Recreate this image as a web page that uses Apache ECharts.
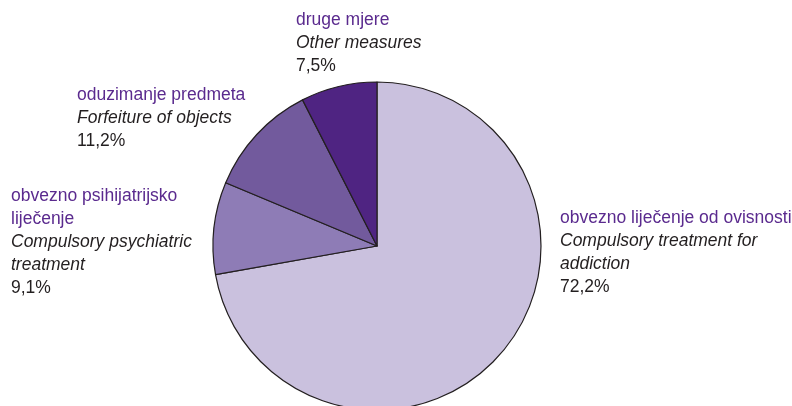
<!DOCTYPE html>
<html>
<head>
<meta charset="utf-8">
<script src="https://cdn.jsdelivr.net/npm/echarts@6/dist/echarts.min.js"></script>
<style>html,body{margin:0;padding:0;background:#fff}#c{width:792px;height:406px}</style>
</head>
<body>
<div id="c"></div>
<script>
const namesHr = ['obvezno liječenje od ovisnosti', 'obvezno psihijatrijsko\nliječenje', 'oduzimanje predmeta', 'druge mjere'];
const namesEn = ['Compulsory treatment for\naddiction', 'Compulsory psychiatric\ntreatment', 'Forfeiture of objects', 'Other measures'];
const values = [72.2, 9.1, 11.2, 7.5];

const colors = ['#CAC1DE', '#8E7CB6', '#725A9D', '#4F2482'];
const labelPos = [[560, 207], [11, 185], [77, 84], [296, 9]];

const chart = echarts.init(document.getElementById('c'));
const data = values.map((v, i) => ({
  value: v,
  name: namesHr[i],
  en: namesEn[i],
  itemStyle: { color: colors[i] }
}));
const ff = 'Liberation Sans, Arial';
chart.setOption({
  animation: false,
  series: [{
    type: 'pie',
    center: [377, 246],
    radius: 164,
    startAngle: 90,
    clockwise: true,
    data: data,
    itemStyle: { borderColor: '#231F20', borderWidth: 1.2 },
    labelLine: { show: false },
    emphasis: { disabled: true },
    label: {
      show: true,
      position: 'outside',
      overflow: 'none',
      formatter: function (p) {
        const hr = p.name.split('\n').map(s => '{a|' + s + '}').join('\n');
        const en = p.data.en.split('\n').map(s => '{b|' + s + '}').join('\n');
        return hr + '\n' + en + '\n{c|' + p.value.toFixed(1).replace('.', ',') + '%}';
      },
      rich: {
        a: { fontFamily: ff, fontSize: 17.5, color: '#5A2A8E', lineHeight: 23 },
        b: { fontFamily: ff, fontSize: 17.5, fontStyle: 'italic', color: '#231F20', lineHeight: 23 },
        c: { fontFamily: ff, fontSize: 17.5, color: '#231F20', lineHeight: 23 }
      }
    },
    labelLayout: function (p) {
      const pos = labelPos[p.dataIndex];
      return { x: pos[0], y: pos[1], align: 'left', verticalAlign: 'top', hideOverlap: false };
    }
  }]
});
</script>
</body>
</html>
